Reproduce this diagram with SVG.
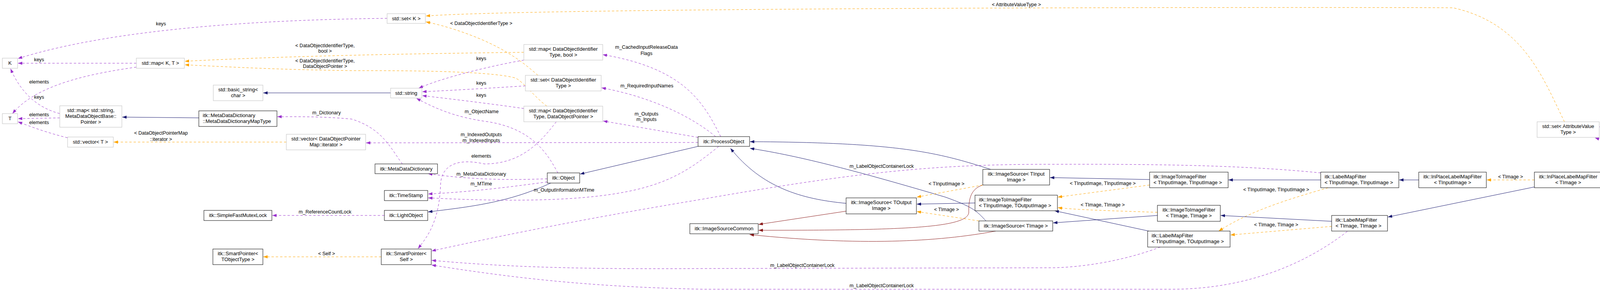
<svg xmlns="http://www.w3.org/2000/svg" width="5165" height="743" viewBox="0 0 5165 743">
<style>
text{font-family:"Liberation Sans",Arial,sans-serif;font-size:13px;fill:#000}
.c{text-anchor:middle}
.l{font-size:12.5px}
.g{fill:#fff;stroke:#bfbfbf;stroke-width:1}
.b{fill:#fff;stroke:#000;stroke-width:1}
.u{fill:none;stroke:#9a32cd;stroke-dasharray:6,5;marker-end:url(#mp)}
.t{fill:none;stroke:#ffa500;stroke-dasharray:6,5;marker-end:url(#mo)}
.n{fill:none;stroke:#191970;marker-end:url(#mn)}
.r{fill:none;stroke:#8b1a1a;marker-end:url(#mr)}
</style>
<defs>
<marker id="mp" markerUnits="userSpaceOnUse" markerWidth="11" markerHeight="8" refX="11" refY="4" orient="auto"><path d="M0,0L11,4L0,8z" fill="#9a32cd"/></marker>
<marker id="mo" markerUnits="userSpaceOnUse" markerWidth="11" markerHeight="8" refX="11" refY="4" orient="auto"><path d="M0,0L11,4L0,8z" fill="#ffa500"/></marker>
<marker id="mn" markerUnits="userSpaceOnUse" markerWidth="11" markerHeight="8" refX="11" refY="4" orient="auto"><path d="M0,0L11,4L0,8z" fill="#191970"/></marker>
<marker id="mr" markerUnits="userSpaceOnUse" markerWidth="11" markerHeight="8" refX="11" refY="4" orient="auto"><path d="M0,0L11,4L0,8z" fill="#8b1a1a"/></marker>
</defs>
<g id="connectors">
<path class="u" d="M991,47C700,50 300,70 46,150"/>
<path class="u" d="M349,162L46,162"/>
<path class="u" d="M349,172C220,190 90,220 32,291"/>
<path class="u" d="M153,291C90,275 50,230 27,176"/>
<path class="u" d="M153,302L46,304"/>
<path class="u" d="M173,353C120,340 80,325 46,312"/>
<path class="t" d="M1341,134C1000,138 700,145 473,157"/>
<path class="t" d="M1400,272C1370,250 1340,210 1320,200C1250,180 1000,181 900,181C700,178 600,172 473,166"/>
<path class="t" d="M1377,193C1340,160 1300,130 1230,100C1170,75 1120,62 1090,56"/>
<path class="t" d="M4005,312C3950,200 3900,60 3720,20C3500,18 1400,18 1090,41"/>
<path class="n" d="M1000,238L674,238"/>
<path class="u" d="M1341,154C1250,170 1130,200 1072,226"/>
<path class="u" d="M1345,220C1250,226 1150,232 1081,235"/>
<path class="u" d="M1341,278C1250,265 1150,253 1081,245"/>
<path class="u" d="M1428,443C1400,390 1360,330 1250,312C1160,300 1110,275 1066,252"/>
<path class="n" d="M509,302L313,300"/>
<path class="u" d="M1030,420C1000,380 980,330 900,305C820,298 760,299 710,299"/>
<path class="u" d="M1787,365L937,366"/>
<path class="t" d="M733,364L291,364"/>
<path class="u" d="M1845,350C1800,260 1750,175 1543,140"/>
<path class="u" d="M1832,350C1760,290 1650,245 1540,225"/>
<path class="u" d="M1787,352L1544,310"/>
<path class="n" d="M1787,375L1485,446"/>
<path class="u" d="M1401,458C1300,462 1200,460 1096,445"/>
<path class="u" d="M1401,466C1300,480 1200,492 1096,497"/>
<path class="u" d="M1840,375C1760,440 1700,480 1550,500C1400,520 1200,512 1096,507"/>
<path class="n" d="M1410,469C1300,520 1200,530 1096,543"/>
<path class="u" d="M984,552L697,552"/>
<path class="t" d="M976,658L674,658"/>
<path class="u" d="M1424,312C1380,370 1330,420 1240,420C1150,400 1130,440 1128,470C1125,560 1100,600 1070,637"/>
<path class="u" d="M3381,443C3200,425 3000,420 2700,421C2400,420 2200,440 1800,510C1500,560 1300,600 1105,643"/>
<path class="u" d="M2970,633C2900,660 2800,683 2700,686L1800,688C1500,690 1300,685 1105,667"/>
<path class="u" d="M3449,593C3350,670 3200,741 3000,741L1800,741C1500,735 1300,710 1105,679"/>
<path class="n" d="M2536,434C2400,390 2300,365 1920,363"/>
<path class="n" d="M2524,566C2500,540 2490,530 2420,505C2200,440 2050,400 1920,380"/>
<path class="n" d="M2166,521C2050,510 1950,480 1870,380"/>
<path class="r" d="M2166,541L1942,575"/>
<path class="r" d="M2516,474C2480,485 2480,520 2480,545C2475,585 2300,590 1942,590"/>
<path class="r" d="M2549,592C2400,620 2200,630 1919,601"/>
<path class="n" d="M2496,520L2347,523"/>
<path class="t" d="M2516,474L2347,505"/>
<path class="t" d="M2506,566L2347,542"/>
<path class="n" d="M2943,460L2688,455"/>
<path class="t" d="M2943,474L2708,505"/>
<path class="n" d="M2963,552L2696,571"/>
<path class="t" d="M2963,544C2850,540 2760,538 2708,532"/>
<path class="n" d="M2941,592L2700,540"/>
<path class="n" d="M3381,461L3145,461"/>
<path class="t" d="M3400,481C3300,510 3200,540 3120,592"/>
<path class="n" d="M3409,567L3125,552"/>
<path class="t" d="M3409,580L3150,602"/>
<path class="n" d="M3632,461L3582,461"/>
<path class="t" d="M3928,461L3806,461"/>
<path class="n" d="M3928,479L3553,556"/>
<path class="n" d="M4243,422L4102,445"/>
<path class="u" d="M4243,385C4180,375 4120,365 4083,353"/>
<path class="u" d="M4767,367C4600,325 4300,315 4095,325"/>
<path class="n" d="M4741,424C4500,440 4300,448 4102,457"/>
<path class="t" d="M4741,401L4507,401"/>
<path class="n" d="M5000,402L4950,402"/>
<text class="l c" x="412" y="65">keys</text>
<text class="l c" x="100" y="157">keys</text>
<text class="l c" x="100" y="214">elements</text>
<text class="l c" x="100" y="253">keys</text>
<text class="l c" x="100" y="298">elements</text>
<text class="l c" x="100" y="318">elements</text>
<text class="l c" x="832" y="121">&lt; DataObjectIdentifierType,</text>
<text class="l c" x="832" y="135">bool &gt;</text>
<text class="l c" x="832" y="160">&lt; DataObjectIdentifierType,</text>
<text class="l c" x="832" y="174">DataObjectPointer &gt;</text>
<text class="l c" x="1232" y="64">&lt; DataObjectIdentifierType &gt;</text>
<text class="l c" x="2602" y="16">&lt; AttributeValueType &gt;</text>
<text class="l c" x="1232" y="154">keys</text>
<text class="l c" x="1232" y="217">keys</text>
<text class="l c" x="1232" y="248">keys</text>
<text class="l c" x="1233" y="290">m_ObjectName</text>
<text class="l c" x="836" y="293">m_Dictionary</text>
<text class="l c" x="1232" y="349">m_IndexedOutputs</text>
<text class="l c" x="1232" y="364">m_IndexedInputs</text>
<text class="l c" x="412" y="345">&lt; DataObjectPointerMap</text>
<text class="l c" x="412" y="361">::iterator &gt;</text>
<text class="l c" x="1655" y="125">m_CachedInputReleaseData</text>
<text class="l c" x="1655" y="141">Flags</text>
<text class="l c" x="1656" y="224">m_RequiredInputNames</text>
<text class="l c" x="1655" y="296">m_Outputs</text>
<text class="l c" x="1655" y="310">m_Inputs</text>
<text class="l c" x="1232" y="450">m_MetaDataDictionary</text>
<text class="l c" x="1232" y="475">m_MTime</text>
<text class="l c" x="1444" y="491">m_OutputInformationMTime</text>
<text class="l c" x="832" y="547">m_ReferenceCountLock</text>
<text class="l c" x="836" y="654">&lt; Self &gt;</text>
<text class="l c" x="1232" y="404">elements</text>
<text class="l c" x="2257" y="430">m_LabelObjectContainerLock</text>
<text class="l c" x="2054" y="684">m_LabelObjectContainerLock</text>
<text class="l c" x="2257" y="736">m_LabelObjectContainerLock</text>
<text class="l c" x="2423" y="475">&lt; TInputImage &gt;</text>
<text class="l c" x="2423" y="541">&lt; TImage &gt;</text>
<text class="l c" x="2823" y="474">&lt; TInputImage, TInputImage &gt;</text>
<text class="l c" x="2823" y="529">&lt; TImage, TImage &gt;</text>
<text class="l c" x="3267" y="490">&lt; TInputImage, TInputImage &gt;</text>
<text class="l c" x="3267" y="580">&lt; TImage, TImage &gt;</text>
<text class="l c" x="3867" y="457">&lt; TImage &gt;</text>
<text class="l c" x="4173" y="361">m_AttributeSet</text>
<text class="l c" x="4377" y="313">m_AttributeSet</text>
<text class="l" x="4531" y="368">&lt; TImage, Functor::</text>
<text class="l" x="4531" y="383">LabelLabelObjectAccessor</text>
<text class="l" x="4531" y="398">&lt; TImage::LabelObjectType &gt; &gt;</text>
</g>
<g id="K"><rect class="g" x="6" y="149" width="39" height="26"/><text class="c" x="25.5" y="166">K</text></g>
<g id="T"><rect class="g" x="6" y="291" width="39" height="26"/><text class="c" x="25.5" y="308">T</text></g>
<g id="mapKT"><rect class="g" x="349" y="149" width="123" height="26"/><text class="c" x="410.5" y="166">std::map&lt; K, T &gt;</text></g>
<g id="basicString"><rect class="g" x="546" y="218" width="127" height="40"/><text class="c" x="609.5" y="234">std::basic_string&lt;</text><text class="c" x="609.5" y="249">char &gt;</text></g>
<g id="mapString"><rect class="g" x="153" y="271" width="159" height="55"/><text class="c" x="232.5" y="287">std::map&lt; std::string,</text><text class="c" x="232.5" y="302">MetaDataObjectBase::</text><text class="c" x="232.5" y="317">Pointer &gt;</text></g>
<g id="MDDMapType"><rect class="b" x="509" y="284" width="200" height="40"/><text x="519" y="300">itk::MetaDataDictionary</text><text x="519" y="315">::MetaDataDictionaryMapType</text></g>
<g id="vectorT"><rect class="g" x="173" y="351" width="117" height="26"/><text class="c" x="231.5" y="368">std::vector&lt; T &gt;</text></g>
<g id="vectorDOPM"><rect class="g" x="733" y="344" width="203" height="40"/><text class="c" x="834.5" y="360">std::vector&lt; DataObjectPointer</text><text class="c" x="834.5" y="375">Map::iterator &gt;</text></g>
<g id="SFML"><rect class="b" x="522" y="539" width="174" height="26"/><text class="c" x="609" y="556">itk::SimpleFastMutexLock</text></g>
<g id="SPTObject"><rect class="b" x="545" y="638" width="128" height="40"/><text class="c" x="609" y="654">itk::SmartPointer&lt;</text><text class="c" x="609" y="669">TObjectType &gt;</text></g>
<g id="setK"><rect class="g" x="991" y="35" width="98" height="25"/><text class="c" x="1040" y="52">std::set&lt; K &gt;</text></g>
<g id="mapDOITbool"><rect class="g" x="1341" y="114" width="202" height="40"/><text class="c" x="1442" y="130">std::map&lt; DataObjectIdentifier</text><text class="c" x="1442" y="145">Type, bool &gt;</text></g>
<g id="setDOIT"><rect class="g" x="1345" y="193" width="194" height="40"/><text class="c" x="1442" y="209">std::set&lt; DataObjectIdentifier</text><text class="c" x="1442" y="224">Type &gt;</text></g>
<g id="string"><rect class="g" x="1000" y="226" width="80" height="25"/><text class="c" x="1040" y="243">std::string</text></g>
<g id="mapDOITDOP"><rect class="g" x="1341" y="272" width="202" height="40"/><text class="c" x="1442" y="288">std::map&lt; DataObjectIdentifier</text><text class="c" x="1442" y="303">Type, DataObjectPointer &gt;</text></g>
<g id="MDD"><rect class="b" x="960" y="420" width="160" height="25"/><text class="c" x="1040" y="437">itk::MetaDataDictionary</text></g>
<g id="Object"><rect class="b" x="1401" y="443" width="83" height="26"/><text class="c" x="1442.5" y="460">itk::Object</text></g>
<g id="TimeStamp"><rect class="b" x="984" y="488" width="111" height="26"/><text class="c" x="1039.5" y="505">itk::TimeStamp</text></g>
<g id="LightObject"><rect class="b" x="984" y="539" width="111" height="26"/><text class="c" x="1039.5" y="556">itk::LightObject</text></g>
<g id="SPSelf"><rect class="b" x="976" y="638" width="128" height="40"/><text class="c" x="1040" y="654">itk::SmartPointer&lt;</text><text class="c" x="1040" y="669">Self &gt;</text></g>
<g id="ImageSourceCommon"><rect class="b" x="1766" y="573" width="175" height="26"/><text class="c" x="1853.5" y="590">itk::ImageSourceCommon</text></g>
<g id="ProcessObject"><rect class="b" x="1787" y="350" width="132" height="25"/><text class="c" x="1853" y="367">itk::ProcessObject</text></g>
<g id="ISOut"><rect class="b" x="2166" y="507" width="180" height="41"/><text class="c" x="2256" y="523">itk::ImageSource&lt; TOutput</text><text class="c" x="2256" y="538">Image &gt;</text></g>
<g id="ISIn"><rect class="b" x="2516" y="434" width="171" height="40"/><text class="c" x="2601.5" y="450">itk::ImageSource&lt; TInput</text><text class="c" x="2601.5" y="465">Image &gt;</text></g>
<g id="ITIFInOut"><rect class="b" x="2496" y="500" width="211" height="40"/><text x="2506" y="516">itk::ImageToImageFilter</text><text x="2506" y="531">&lt; TInputImage, TOutputImage &gt;</text></g>
<g id="ISImage"><rect class="b" x="2506" y="566" width="189" height="26"/><text class="c" x="2600.5" y="583">itk::ImageSource&lt; TImage &gt;</text></g>
<g id="ITIFInIn"><rect class="b" x="2943" y="441" width="201" height="40"/><text x="2953" y="457">itk::ImageToImageFilter</text><text x="2953" y="472">&lt; TInputImage, TInputImage &gt;</text></g>
<g id="LMFInIn"><rect class="b" x="3381" y="441" width="200" height="40"/><text x="3391" y="457">itk::LabelMapFilter</text><text x="3391" y="472">&lt; TInputImage, TInputImage &gt;</text></g>
<g id="ITIFII"><rect class="b" x="2963" y="526" width="161" height="41"/><text class="c" x="3043.5" y="542">itk::ImageToImageFilter</text><text class="c" x="3043.5" y="557">&lt; TImage, TImage &gt;</text></g>
<g id="LMFII"><rect class="b" x="3409" y="552" width="143" height="40"/><text x="3419" y="568">itk::LabelMapFilter</text><text x="3419" y="583">&lt; TImage, TImage &gt;</text></g>
<g id="LMFInOut"><rect class="b" x="2938" y="592" width="211" height="41"/><text x="2948" y="608">itk::LabelMapFilter</text><text x="2948" y="623">&lt; TInputImage, TOutputImage &gt;</text></g>
<g id="IPLIn"><rect class="b" x="3632" y="441" width="173" height="40"/><text class="c" x="3718.5" y="457">itk::InPlaceLabelMapFilter</text><text class="c" x="3718.5" y="472">&lt; TInputImage &gt;</text></g>
<g id="IPLI"><rect class="b" x="3928" y="441" width="173" height="40"/><text class="c" x="4014.5" y="457">itk::InPlaceLabelMapFilter</text><text class="c" x="4014.5" y="472">&lt; TImage &gt;</text></g>
<g id="setAVT"><rect class="g" x="3935" y="312" width="159" height="40"/><text class="c" x="4014.5" y="328">std::set&lt; AttributeValue</text><text class="c" x="4014.5" y="343">Type &gt;</text></g>
<g id="ASLTA"><rect class="b" x="4243" y="381" width="263" height="41"/><text x="4253" y="397">itk::AttributeSelectionLabel</text><text x="4253" y="412">MapFilter&lt; TImage, TAttributeAccessor &gt;</text></g>
<g id="ASLF"><rect class="b" x="4741" y="367" width="208" height="70"/><text x="4752" y="383">itk::AttributeSelectionLabel</text><text x="4752" y="398">MapFilter&lt; TImage, Functor</text><text x="4752" y="413">::LabelLabelObjectAccessor</text><text x="4752" y="428">&lt; TImage::LabelObjectType &gt; &gt;</text></g>
<g id="LSL"><rect x="5000" y="381" width="160" height="41" fill="#bfbfbf" stroke="#000"/><text class="c" x="5080" y="397">itk::LabelSelectionLabel</text><text class="c" x="5080" y="412">MapFilter&lt; TImage &gt;</text></g>
</svg>
